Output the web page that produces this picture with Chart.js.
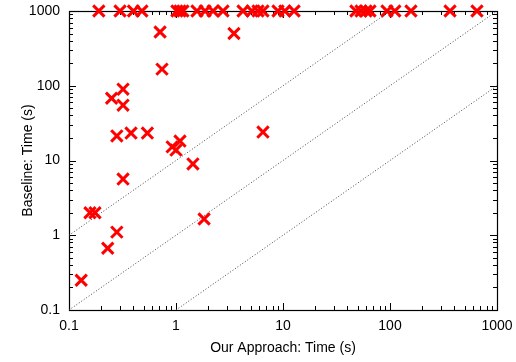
<!DOCTYPE html>
<html>
<head>
<meta charset="utf-8">
<script src="https://cdn.jsdelivr.net/npm/chart.js@4"></script>
<style>
html, body { margin: 0; padding: 0; background: #fff; }
#wrap { width: 516px; height: 362px; }
</style>
</head>
<body>
<div id="wrap"><canvas id="scatterChart"></canvas></div>
<script>
// solved instances: our approach vs. baseline (1000 = timeout)
var ourTimes = [
    0.19, 0.30, 0.40, 0.48, 1.02, 1.09, 1.16, 1.57, 1.87, 2.22, 2.75, 4.23, 5.13,
    5.84, 6.50, 8.98, 10.4, 12.7, 48, 53.6, 59.7, 65, 93.7, 111, 157, 364, 650,
    0.71, 3.48, 0.74, 0.32, 0.25, 0.32, 0.28, 0.38, 0.54, 0.92, 1.0, 1.09, 1.44,
    0.32, 6.5, 0.157, 0.175, 1.83, 0.28, 0.23, 0.13
];
var baselineTimes = [
    1000, 1000, 1000, 1000, 1000, 1000, 1000, 1000, 1000, 1000, 1000, 1000, 1000,
    1000, 1000, 1000, 1000, 1000, 1000, 1000, 1000, 1000, 1000, 1000, 1000, 1000, 1000,
    524, 500, 167, 90, 68, 55, 21.3, 23.3, 23.3, 15.2, 13.8, 18.2, 9.0,
    5.65, 24, 2.0, 2.0, 1.65, 1.1, 0.67, 0.25
];

// reference lines y = 10x, y = x, y = x/10
var diagTenX = [0.1, 100];
var diagTenY = [1, 1000];
var diagOneX = [0.1, 1000];
var diagOneY = [0.1, 1000];
var diagTenthX = [1, 1000];
var diagTenthY = [0.1, 100];

var decadeTicks = [0.1, 1, 10, 100, 1000];
var minorSteps = [2, 3, 4, 5, 6, 7, 8, 9];

function toPoints(xs, ys) {
    return xs.map(function(x, i) { return { x: x, y: ys[i] }; });
}

function diagDataset(xs, ys) {
    return {
        type: 'line',
        data: toPoints(xs, ys),
        borderColor: '#444',
        borderWidth: 1,
        borderDash: [1, 2],
        pointRadius: 0,
        fill: false
    };
}

var frameTicks = {
    id: 'frameTicks',
    beforeDatasetsDraw: function(chart) {
        var ctx = chart.ctx, a = chart.chartArea;
        var xs = chart.scales.x, ys = chart.scales.y;
        ctx.save();
        ctx.strokeStyle = '#000';
        ctx.lineWidth = 1;
        ctx.beginPath();
        decadeTicks.forEach(function(d) {
            [1].concat(minorSteps).forEach(function(m) {
                var v = d * m;
                if (v > 1000) return;
                var len = m === 1 ? 7 : 4;
                var px = Math.round(xs.getPixelForValue(v)) + 0.5;
                ctx.moveTo(px, a.bottom); ctx.lineTo(px, a.bottom - len);
                ctx.moveTo(px, a.top); ctx.lineTo(px, a.top + len);
                var py = Math.round(ys.getPixelForValue(v)) + 0.5;
                ctx.moveTo(a.left, py); ctx.lineTo(a.left + len, py);
                ctx.moveTo(a.right, py); ctx.lineTo(a.right - len, py);
            });
        });
        ctx.stroke();
        ctx.lineWidth = 1.2;
        ctx.strokeRect(Math.round(a.left) + 0.5, Math.round(a.top) + 0.5,
            Math.round(a.right - a.left), Math.round(a.bottom - a.top));
        ctx.restore();
    }
};

var tickFont = { family: '"Liberation Sans", Arial, sans-serif', size: 14 };

function decades(scale) {
    scale.ticks = decadeTicks.map(function(v) { return { value: v }; });
}

var ctx = document.getElementById('scatterChart').getContext('2d');
var myChart = new Chart(ctx, {
    type: 'scatter',
    data: {
        datasets: [
            diagDataset(diagTenX, diagTenY),
            diagDataset(diagOneX, diagOneY),
            diagDataset(diagTenthX, diagTenthY),
            {
                data: toPoints(ourTimes, baselineTimes),
                pointStyle: 'crossRot',
                pointRadius: 8,
                borderColor: '#ff0000',
                backgroundColor: '#ff0000',
                pointBorderWidth: 3,
                clip: false
            }
        ]
    },
    options: {
        responsive: true,
        maintainAspectRatio: false,
        animation: false,
        layout: { padding: { top: 11, right: 19, left: 0, bottom: 0 } },
        plugins: {
            legend: { display: false },
            tooltip: { enabled: false }
        },
        scales: {
            x: {
                type: 'logarithmic',
                min: 0.1,
                max: 1000,
                grid: { display: false, drawTicks: false },
                border: { display: false },
                afterBuildTicks: decades,
                afterFit: function(scale) {
                    scale.height = 52;
                    scale.paddingLeft = 0;
                    scale.paddingRight = 0;
                },
                ticks: {
                    color: '#000',
                    font: tickFont,
                    padding: 8,
                    autoSkip: false,
                    maxRotation: 0,
                    callback: function(value) { return String(value); }
                },
                title: {
                    display: true,
                    text: 'Our Approach: Time (s)',
                    color: '#000',
                    font: tickFont,
                    padding: { top: 0, bottom: 5 }
                }
            },
            y: {
                type: 'logarithmic',
                min: 0.1,
                max: 1000,
                grid: { display: false, drawTicks: false },
                border: { display: false },
                afterBuildTicks: decades,
                afterFit: function(scale) {
                    scale.width = 69;
                    scale.paddingTop = 0;
                    scale.paddingBottom = 0;
                },
                ticks: {
                    color: '#000',
                    font: tickFont,
                    padding: 9,
                    autoSkip: false,
                    callback: function(value) { return String(value); }
                },
                title: {
                    display: true,
                    text: 'Baseline: Time (s)',
                    color: '#000',
                    font: tickFont,
                    padding: { top: 20, bottom: 0 }
                }
            }
        }
    },
    plugins: [frameTicks]
});
</script>
</body>
</html>
